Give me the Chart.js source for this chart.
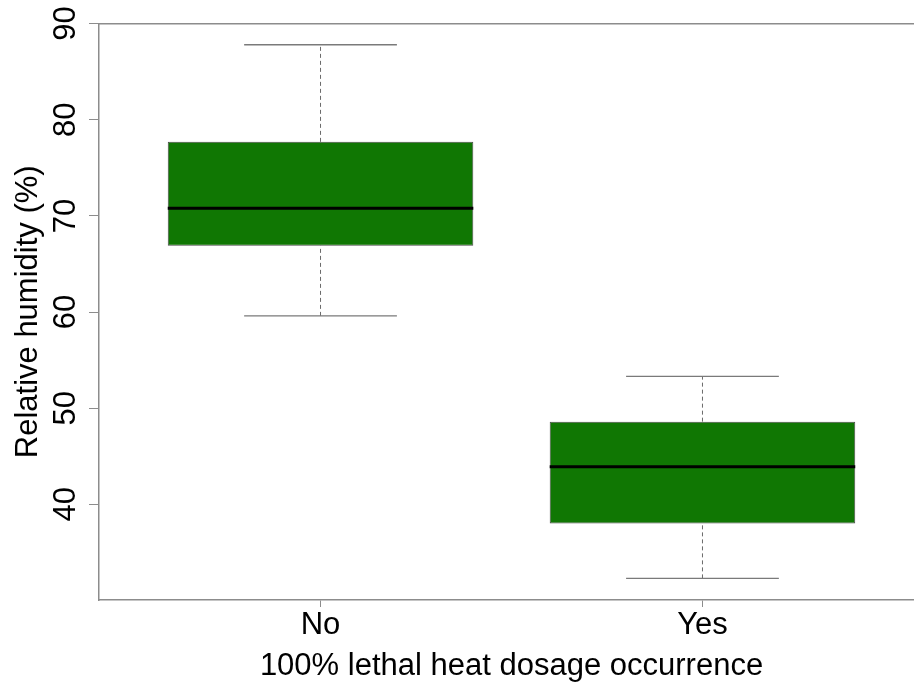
<!DOCTYPE html>
<html>
<head>
<meta charset="utf-8">
<script src="https://cdn.jsdelivr.net/npm/chart.js@4/dist/chart.umd.min.js"></script>
<style>
  html, body { margin: 0; padding: 0; background: #fff; overflow: hidden; }
  canvas { display: block; }
</style>
</head>
<body>
<canvas id="chart" width="924" height="683"></canvas>
<script>
// Relative humidity by occurrence of a 100% lethal heat dosage
const categories    = ['No', 'Yes'];
const whiskerLow    = [59.6, 32.3];
const lowerQuartile = [66.9, 38.0];
const medians       = [70.8, 43.9];
const upperQuartile = [77.7, 48.6];
const whiskerHigh   = [87.8, 53.3];
const yTicks        = [40, 50, 60, 70, 80, 90];

const BOX_WIDTH = 0.8;   // in group units
const CAP_WIDTH = 0.4;
const FONT = "'Liberation Sans', Arial, Helvetica, sans-serif";
const AXIS_GREY = '#8c8c8c';

const pos = i => i + 1;

// horizontal segments centred on each group, separated by gaps
function hSegments(values, halfWidth) {
  const pts = [];
  values.forEach((v, i) => {
    pts.push({ x: pos(i) - halfWidth, y: v }, { x: pos(i) + halfWidth, y: v }, { x: pos(i), y: null });
  });
  return pts;
}
// vertical segments at each group position
function vSegments(from, to) {
  const pts = [];
  from.forEach((v, i) => {
    pts.push({ x: pos(i), y: v }, { x: pos(i), y: to[i] }, { x: pos(i), y: null });
  });
  return pts;
}

const font = (size, lh) => ({ family: FONT, size: size, lineHeight: lh });

new Chart(document.getElementById('chart'), {
  type: 'bar',
  data: {
    datasets: [
      {
        type: 'bar',
        data: categories.map((c, i) => ({ x: pos(i), y: [lowerQuartile[i], upperQuartile[i]] })),
        backgroundColor: '#107703',
        borderColor: '#4a4a4a',
        borderWidth: 1,
        borderSkipped: false,
        barPercentage: BOX_WIDTH,
        categoryPercentage: 1,
        order: 3
      },
      {
        type: 'line',
        data: vSegments(upperQuartile, whiskerHigh).concat(vSegments(whiskerLow, lowerQuartile)),
        borderColor: '#6a6a6a',
        borderWidth: 1,
        borderDash: [4, 3],
        pointRadius: 0,
        spanGaps: false,
        order: 2
      },
      {
        type: 'line',
        data: hSegments(whiskerHigh, CAP_WIDTH / 2).concat(hSegments(whiskerLow, CAP_WIDTH / 2)),
        borderColor: '#7a7a7a',
        borderWidth: 1.3,
        pointRadius: 0,
        spanGaps: false,
        order: 1
      },
      {
        type: 'line',
        data: hSegments(medians, BOX_WIDTH / 2),
        borderColor: '#000',
        borderWidth: 3,
        borderCapStyle: 'butt',
        pointRadius: 0,
        spanGaps: false,
        order: 0
      }
    ]
  },
  options: {
    responsive: false,
    animation: false,
    devicePixelRatio: 1,
    layout: { padding: { left: 0, right: 0, top: 23, bottom: 0 } },
    plugins: { legend: { display: false }, tooltip: { enabled: false } },
    scales: {
      x: {
        type: 'linear',
        position: 'bottom',
        offset: false,
        min: 0.42,
        max: 2.58,
        afterBuildTicks: s => { s.ticks = categories.map((c, i) => ({ value: pos(i) })); },
        ticks: {
          callback: v => categories[Math.round(v) - 1],
          autoSkip: false,
          maxRotation: 0,
          padding: 3,
          color: '#000',
          font: font(31, 1)
        },
        grid: { offset: false, drawOnChartArea: false, tickLength: 7, color: AXIS_GREY },
        border: { color: AXIS_GREY, width: 1.5 },
        title: {
          display: true,
          text: '100% lethal heat dosage occurrence',
          color: '#000',
          font: font(31, 1),
          padding: { top: 7, bottom: 1 }
        }
      },
      xTop: {
        type: 'linear',
        position: 'top',
        display: true,
        offset: false,
        min: 0.42,
        max: 2.58,
        ticks: { display: false },
        grid: { offset: false, drawOnChartArea: false, drawTicks: false },
        border: { color: AXIS_GREY, width: 1.5 }
      },
      y: {
        type: 'linear',
        min: 30.05,
        max: 90,
        afterBuildTicks: s => { s.ticks = yTicks.map(v => ({ value: v })); },
        afterFit: s => { s.width = 99; },
        ticks: {
          minRotation: 90,
          maxRotation: 90,
          crossAlign: 'center',
          padding: 5,
          color: '#000',
          font: font(31, 1.2)
        },
        grid: { drawOnChartArea: false, tickLength: 10, color: AXIS_GREY },
        border: { color: AXIS_GREY, width: 1.5 },
        title: {
          display: true,
          text: 'Relative humidity (%)',
          color: '#000',
          font: font(31, 1.2),
          padding: { top: 10, bottom: 0 }
        }
      }
    }
  }
});
</script>
</body>
</html>
